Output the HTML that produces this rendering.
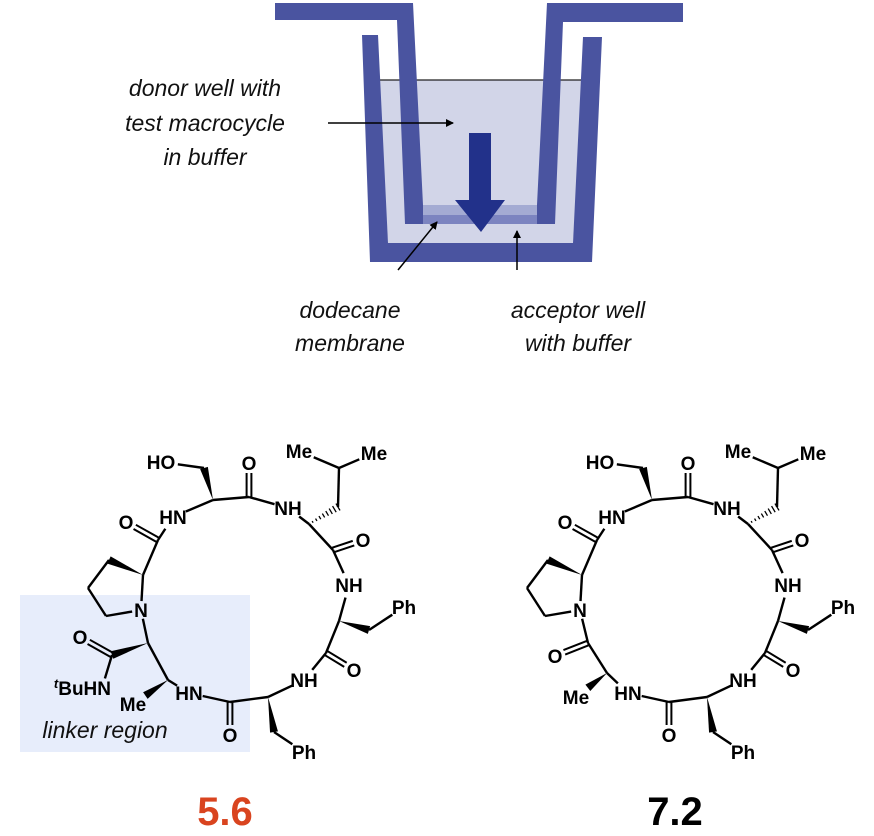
<!DOCTYPE html>
<html><head><meta charset="utf-8"><style>
html,body{margin:0;padding:0;background:#fff;width:874px;height:836px;overflow:hidden}
svg{display:block}
.lab{font-family:"Liberation Sans",Arial,sans-serif;font-weight:bold;font-size:19px;fill:#000}
.it{font-family:"Liberation Sans",Arial,sans-serif;font-style:italic;font-size:23px;fill:#111}
</style></head><body>
<svg id="s" width="874" height="836" viewBox="0 0 874 836" xmlns="http://www.w3.org/2000/svg">
<defs><marker id="ah" markerWidth="8" markerHeight="8" refX="7" refY="4" orient="auto" markerUnits="userSpaceOnUse"><path d="M0,0 L8,4 L0,8 Z" fill="#000"/></marker></defs>
<polygon points="378,80 583,80 573,243 388,243" fill="#d2d5e8"/>
<line x1="378" y1="80" x2="583" y2="80" stroke="#222" stroke-width="1.2"/>
<polygon points="362,35 378,35 388,243 573,243 583,37 602,37 592,262 370,262" fill="#4a54a0"/>
<rect x="423" y="205" width="114" height="10" fill="#a4abd3"/>
<rect x="423" y="215" width="114" height="9" fill="#7c84c0"/>
<polygon points="275,3 413,3 423,205 423,224 405,224 397,20 275,20" fill="#4a54a0"/>
<polygon points="547,3 683,3 683,22 563,22 555,224 537,224 537,205" fill="#4a54a0"/>
<polygon points="469,133 491,133 491,200 505,200 481,232 455,200 469,200" fill="#22318a"/>
<line x1="328" y1="123" x2="453" y2="123" stroke="#000" stroke-width="1.5" marker-end="url(#ah)"/>
<line x1="398" y1="270" x2="437" y2="222" stroke="#000" stroke-width="1.5" marker-end="url(#ah)"/>
<line x1="517" y1="270" x2="517" y2="231" stroke="#000" stroke-width="1.5" marker-end="url(#ah)"/>
<text class="it" x="205" y="96" text-anchor="middle">donor well with</text>
<text class="it" x="205" y="131" text-anchor="middle">test macrocycle</text>
<text class="it" x="205" y="165" text-anchor="middle">in buffer</text>
<text class="it" x="350" y="318" text-anchor="middle">dodecane</text>
<text class="it" x="350" y="351" text-anchor="middle">membrane</text>
<text class="it" x="578" y="318" text-anchor="middle">acceptor well</text>
<text class="it" x="578" y="351" text-anchor="middle">with buffer</text>
<rect x="20" y="595" width="230" height="157" fill="#e7edfb"/>
<text class="it" x="105" y="738" text-anchor="middle">linker region</text>
<g id="m1" transform="translate(-439,0)"></g>
<g id="m2"></g>
<text x="225" y="825" text-anchor="middle" font-family="Liberation Sans,Arial,sans-serif" font-weight="bold" font-size="40" fill="#d9441f">5.6</text>
<text x="675" y="825" text-anchor="middle" font-family="Liberation Sans,Arial,sans-serif" font-weight="bold" font-size="40" fill="#000">7.2</text>
</svg>
<script>
var NS='http://www.w3.org/2000/svg';
var common={HO:[600,462,'HO',17],CH2:[643,468],Ca1:[652,500],C1:[688,497],O1:[688,463,'O',10],
N1:[727,508,'NH',14],Ca2:[748,524],L1:[777,507],L2:[778,468],Me1:[738,451,'Me',16],Me2:[813,453,'Me',16],
C2:[772,550],O2:[802,540,'O',10],N2:[788,585,'NH',13],Ca3:[778,621],B1:[808,630],Ph1:[843,607,'Ph',14],
C3:[765,653],O3:[793,670,'O',10],N3:[743,680,'NH',13],Ca4:[707,697],B2:[713,732],Ph2:[743,752,'Ph',14],
C4:[669,702],O4:[669,735,'O',10],N4:[628,693,'HN',14],N5:[580,610,'N',9],P1:[545,616],P2:[527,588],P3:[548,560],
Ca5:[582,575],C5:[597,540],O5:[565,522,'O',10],N6:[612,517,'HN',14]};
var cb=[['HO','CH2','s'],['Ca1','CH2','w'],['Ca1','C1','s'],['C1','O1','d'],['C1','N1','s'],['N1','Ca2','s'],['Ca2','L1','h'],['L1','L2','s'],['L2','Me1','s'],['L2','Me2','s'],
['Ca2','C2','s'],['C2','O2','d'],['C2','N2','s'],['N2','Ca3','s'],['Ca3','B1','w'],['B1','Ph1','s'],['Ca3','C3','s'],['C3','O3','d'],['C3','N3','s'],['N3','Ca4','s'],['Ca4','B2','w'],['B2','Ph2','s'],
['Ca4','C4','s'],['C4','O4','d'],['C4','N4','s'],['N5','P1','s'],['P1','P2','s'],['P2','P3','s'],['Ca5','P3','w'],['Ca5','N5','s'],['Ca5','C5','s'],['C5','O5','d'],['C5','N6','s'],['N6','Ca1','s']];
function clone(o){var r={};for(var k in o)r[k]=o[k].slice();return r;}
var a2=clone(common);a2.Ca6=[607,673];a2.Me6=[576,697,'Me',15];a2.C6=[588,643];a2.O6=[555,656,'O',10];
var b2=cb.concat([['N4','Ca6','s'],['Ca6','Me6','w'],['Ca6','C6','s'],['C6','O6','d'],['C6','N5','s']]);
var a1=clone(common);a1.Ca6=[607,680];a1.Me6=[572,704,'Me',15];a1.CaB=[587,643];a1.Cw=[551,655];a1.OB=[519,637,'O',10];a1.tN=[541,688,'',10];
var b1=cb.concat([['N4','Ca6','s'],['Ca6','Me6','w'],['Ca6','CaB','s'],['CaB','N5','s'],['CaB','Cw','w'],['Cw','OB','d'],['Cw','tN','s']]);
function el(n,at,p){var e=document.createElementNS(NS,n);for(var k in at)e.setAttribute(k,at[k]);p.appendChild(e);return e;}
function draw(g,A,B){
 B.forEach(function(b){var p=A[b[0]],q=A[b[1]];var x1=p[0],y1=p[1],x2=q[0],y2=q[1];
  var dx=x2-x1,dy=y2-y1,L=Math.sqrt(dx*dx+dy*dy),ux=dx/L,uy=dy/L;
  var t1=p[3]||0,t2=q[3]||0;x1+=ux*t1;y1+=uy*t1;x2-=ux*t2;y2-=uy*t2;
  var nx=-uy,ny=ux;
  if(b[2]=='s')el('line',{x1:x1,y1:y1,x2:x2,y2:y2,stroke:'#000','stroke-width':2.4},g);
  else if(b[2]=='d'){[-2.4,2.4].forEach(function(o){el('line',{x1:x1+nx*o,y1:y1+ny*o,x2:x2+nx*o,y2:y2+ny*o,stroke:'#000','stroke-width':2},g);});}
  else if(b[2]=='w'){var w=4;el('polygon',{points:x1+','+y1+' '+(x2+nx*w)+','+(y2+ny*w)+' '+(x2-nx*w)+','+(y2-ny*w),fill:'#000'},g);}
  else if(b[2]=='h'){var n=8;for(var i=1;i<=n;i++){var f=i/n,cx=x1+dx*f*(1-t2/L),cy=y1+dy*f*(1-t2/L),w=0.5+3.5*f;el('line',{x1:cx+nx*w,y1:cy+ny*w,x2:cx-nx*w,y2:cy-ny*w,stroke:'#000','stroke-width':1.3},g);}}
 });
 for(var k in A){var a=A[k];if(a[2]){var t=el('text',{x:a[0],y:a[1]+7,'text-anchor':'middle','class':'lab'},g);t.textContent=a[2];}}
}
draw(document.getElementById('m2'),a2,b2);
var g1=document.getElementById('m1');draw(g1,a1,b1);
var t=el('text',{x:550,y:695,'text-anchor':'end','class':'lab'},g1);
var ts=el('tspan',{'font-style':'italic','font-size':'13',dy:'-7'},t);ts.textContent='t';
var ts2=el('tspan',{dy:'7'},t);ts2.textContent='BuHN';
</script>
</body></html>
